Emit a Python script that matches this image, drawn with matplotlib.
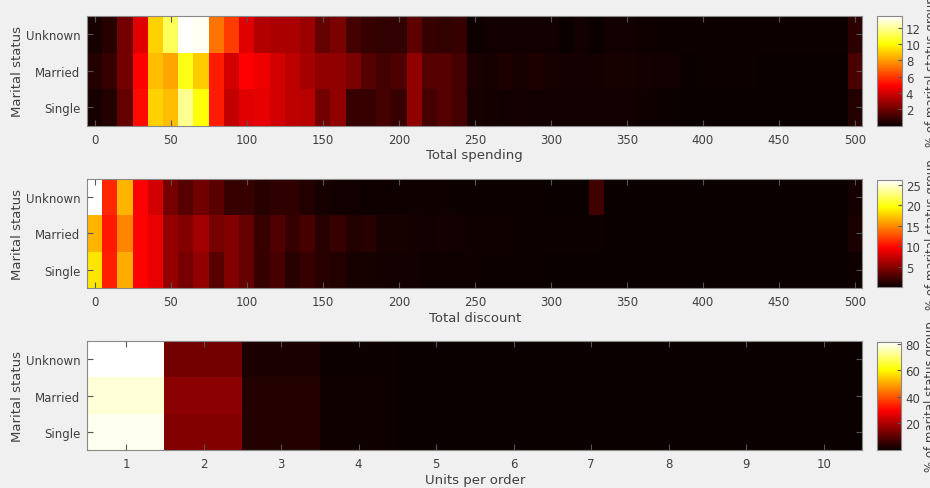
import matplotlib
matplotlib.use("Agg")
import matplotlib.pyplot as plt
import numpy as np

groups = ["Unknown", "Married", "Single"]

# total spending, bins of 10 (centres 0..500), % of group
spend_unknown = [0.3, 0.6, 2.1, 4.3, 9.1, 11.2, 13.4, 13.2, 7.2, 6.1,
                 4.3, 3.4, 3.2, 3.2, 2.9, 1.8, 2.3, 1.2, 0.9, 0.8,
                 0.8, 1.7, 0.9, 0.8, 0.9, 0.1, 0.2, 0.2, 0.2, 0.2,
                 0.2, 0.05, 0.2, 0.05, 0.2, 0.2, 0.15, 0.15, 0.1, 0.1,
                 0.1, 0.1, 0.1, 0.1, 0.1, 0.1, 0.1, 0.1, 0.1, 0.1, 0.7]
spend_married = [0.5, 0.9, 2.1, 4.9, 8.7, 8.2, 10.3, 9.0, 5.4, 4.0,
                 4.9, 4.6, 4.0, 3.6, 3.1, 2.7, 2.7, 2.3, 1.5, 1.2,
                 1.4, 2.7, 1.5, 1.5, 1.2, 0.35, 0.3, 0.4, 0.3, 0.4,
                 0.3, 0.25, 0.25, 0.25, 0.3, 0.3, 0.25, 0.2, 0.2, 0.05,
                 0.1, 0.1, 0.1, 0.1, 0.05, 0.05, 0.05, 0.05, 0.05, 0.05, 1.3]
spend_single = [0.3, 0.5, 1.8, 5.1, 9.1, 8.7, 11.9, 10.1, 5.4, 3.7,
                4.3, 4.4, 4.0, 3.6, 3.5, 2.1, 2.7, 0.9, 0.9, 1.2,
                0.9, 2.7, 1.2, 1.5, 1.2, 0.3, 0.25, 0.2, 0.25, 0.2,
                0.2, 0.2, 0.2, 0.2, 0.2, 0.2, 0.15, 0.15, 0.1, 0.05,
                0.05, 0.05, 0.05, 0.05, 0.05, 0.05, 0.05, 0.05, 0.05, 0.05, 0.5]

# total discount, bins of 10 (centres 0..500)
disc_unknown = [26.2, 11.1, 16.6, 9.6, 7.8, 4.2, 3.0, 4.0, 3.2, 1.8,
                1.8, 1.2, 1.5, 1.5, 1.0, 0.6, 0.4, 0.4, 0.3, 0.3,
                0.3, 0.3, 0.25, 0.25, 0.2, 0.2, 0.2, 0.15, 0.15, 0.15,
                0.1, 0.1, 0.1, 2.2, 0.1, 0.1, 0.1, 0.1, 0.1, 0.1,
                0.1, 0.1, 0.1, 0.1, 0.1, 0.1, 0.1, 0.1, 0.1, 0.1, 0.5]
disc_married = [16.6, 10.5, 14.8, 9.7, 8.7, 5.4, 4.8, 6.0, 4.2, 4.8,
                3.6, 1.8, 2.8, 1.8, 2.4, 1.2, 1.8, 1.0, 1.2, 0.6,
                0.6, 0.5, 0.4, 0.5, 0.4, 0.3, 0.3, 0.25, 0.2, 0.2,
                0.2, 0.15, 0.15, 0.15, 0.1, 0.1, 0.1, 0.1, 0.1, 0.1,
                0.1, 0.1, 0.1, 0.1, 0.1, 0.1, 0.1, 0.1, 0.1, 0.1, 0.7]
disc_single = [18.6, 10.8, 16.3, 9.7, 8.7, 5.4, 4.2, 5.4, 3.0, 4.8,
               3.6, 1.8, 2.4, 1.2, 1.8, 1.2, 1.0, 0.6, 0.6, 0.5,
               0.4, 0.4, 0.3, 0.3, 0.25, 0.25, 0.2, 0.2, 0.15, 0.15,
               0.1, 0.1, 0.1, 0.1, 0.1, 0.1, 0.1, 0.1, 0.1, 0.1,
               0.1, 0.1, 0.1, 0.1, 0.1, 0.1, 0.1, 0.1, 0.1, 0.1, 0.3]

# units per order 1..10
units = list(range(1, 11))
units_unknown = [81.3, 13.0, 2.0, 0.6, 0.3, 0.2, 0.1, 0.1, 0.1, 0.1]
units_married = [78.0, 15.7, 3.0, 0.9, 0.3, 0.2, 0.1, 0.1, 0.1, 0.1]
units_single = [80.0, 14.8, 3.0, 0.8, 0.3, 0.2, 0.1, 0.1, 0.1, 0.1]

bg = "#f0f0f0"
txt = "#404040"
plt.rcParams["font.family"] = "DejaVu Sans"

fig = plt.figure(figsize=(9.3, 4.89), dpi=100, facecolor=bg)

panels = [
    (np.array([spend_unknown, spend_married, spend_single]), (-5, 505),
     list(range(0, 501, 50)), "Total spending", [2, 4, 6, 8, 10, 12],
     (0.0939, 0.741, 0.8334, 0.2237), (0.9433, 0.741, 0.0262, 0.2237)),
    (np.array([disc_unknown, disc_married, disc_single]), (-5, 505),
     list(range(0, 501, 50)), "Total discount", [5, 10, 15, 20, 25],
     (0.0939, 0.409, 0.8334, 0.2229), (0.9433, 0.411, 0.0262, 0.2188)),
    (np.array([units_unknown, units_married, units_single]), (0.5, 10.5),
     units, "Units per order", [20, 40, 60, 80],
     (0.0939, 0.0777, 0.8334, 0.2223), (0.9427, 0.0783, 0.0262, 0.2203)),
]

for data, (x0, x1), xt, xlabel, cticks, apos, cpos in panels:
    ax = fig.add_axes(apos)
    im = ax.imshow(data, aspect="auto", cmap="hot", interpolation="nearest",
                   extent=(x0, x1, 2.5, -0.5), vmin=0, vmax=data.max())
    ax.set_xlim(x0, x1)
    ax.set_ylim(2.5, -0.5)
    ax.set_xticks(xt)
    ax.set_yticks([0, 1, 2])
    ax.set_yticklabels(groups)
    ax.tick_params(direction="in", top=True, right=True, length=4,
                   color="#555555", labelcolor=txt, labelsize=8.5, pad=5)
    for s in ax.spines.values():
        s.set_color("#888888")
        s.set_linewidth(0.8)
    ax.set_xlabel(xlabel, fontsize=9.5, color=txt, labelpad=2)
    ax.set_ylabel("Marital status", fontsize=9.5, color=txt, labelpad=1)

    cax = fig.add_axes(cpos)
    cb = fig.colorbar(im, cax=cax, ticks=cticks)
    cb.outline.set_edgecolor("#888888")
    cb.outline.set_linewidth(0.8)
    cax.tick_params(direction="in", length=3, color="#555555",
                    labelcolor=txt, labelsize=8.5, pad=3)
    cb.set_label("% of marital status group", fontsize=8.5, color=txt,
                 labelpad=3)

fig.savefig("out.png", dpi=100, facecolor=bg)
